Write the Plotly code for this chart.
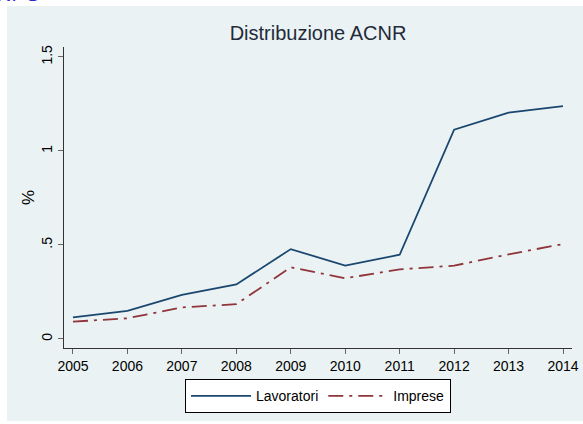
import plotly.graph_objects as go

anni = [2005, 2006, 2007, 2008, 2009, 2010, 2011, 2012, 2013, 2014]
lavoratori = [0.115, 0.15, 0.234, 0.29, 0.478, 0.39, 0.448, 1.113, 1.204, 1.239]
imprese = [0.092, 0.11, 0.168, 0.185, 0.381, 0.323, 0.37, 0.39, 0.45, 0.505]

y_ticks = [0, 0.5, 1, 1.5]
y_labels = ["0", ".5", "1", "1.5"]

fig = go.Figure()

fig.add_trace(go.Scatter(x=anni, y=lavoratori, name="Lavoratori", mode="lines",
                         line=dict(color="#1a476f", width=1.8)))
fig.add_trace(go.Scatter(x=anni, y=imprese, name="Imprese", mode="lines",
                         line=dict(color="#90353b", width=1.8, dash="longdashdot")))

# sfondo azzurrino stile Stata
fig.add_shape(type="rect", xref="paper", yref="paper",
              x0=-0.1122, x1=1.03, y0=-0.2425, y1=1.1362,
              fillcolor="#eaf2f3", line=dict(width=0), layer="below")

fig.update_layout(
    width=583, height=424,
    margin=dict(l=64, r=11, t=47, b=76, autoexpand=False),
    paper_bgcolor="white",
    plot_bgcolor="white",
    font=dict(family="Arial, Liberation Sans", size=14, color="black"),
    title=dict(text="Distribuzione ACNR", x=0.5, xref="paper", y=0.922,
               yanchor="middle", font=dict(size=20, color="#1f2b3a")),
    legend=dict(orientation="h", x=0.5, xanchor="center", y=-0.104, yanchor="top",
                bgcolor="white", bordercolor="black", borderwidth=1,
                font=dict(size=14), itemwidth=60),
    xaxis=dict(range=[2004.835, 2014.165], tickvals=anni, showgrid=False,
               showline=True, linecolor="#333333", linewidth=1, automargin=False,
               ticks="outside", ticklen=5, tickcolor="#666666", zeroline=False),
    yaxis=dict(range=[-0.048, 1.553], tickvals=y_ticks, ticktext=y_labels,
               tickangle=-90, showgrid=True, gridcolor="#eaf2f3", gridwidth=1,
               showline=True, linecolor="#333333", linewidth=1, automargin=False,
               ticks="outside", ticklen=5, tickcolor="#666666", zeroline=False,
               title=dict(text="%", standoff=0)),
)

fig.add_annotation(text="NPG", xref="paper", yref="paper", x=-0.136, y=1.133,
                   xanchor="left", yanchor="bottom", showarrow=False,
                   font=dict(size=20, color="#2a2ad0"))

# niente margine del body, così il grafico parte da (0, 0)
fig.write_html("out.html", config={"displayModeBar": False},
               post_script="document.body.style.margin='0';")
